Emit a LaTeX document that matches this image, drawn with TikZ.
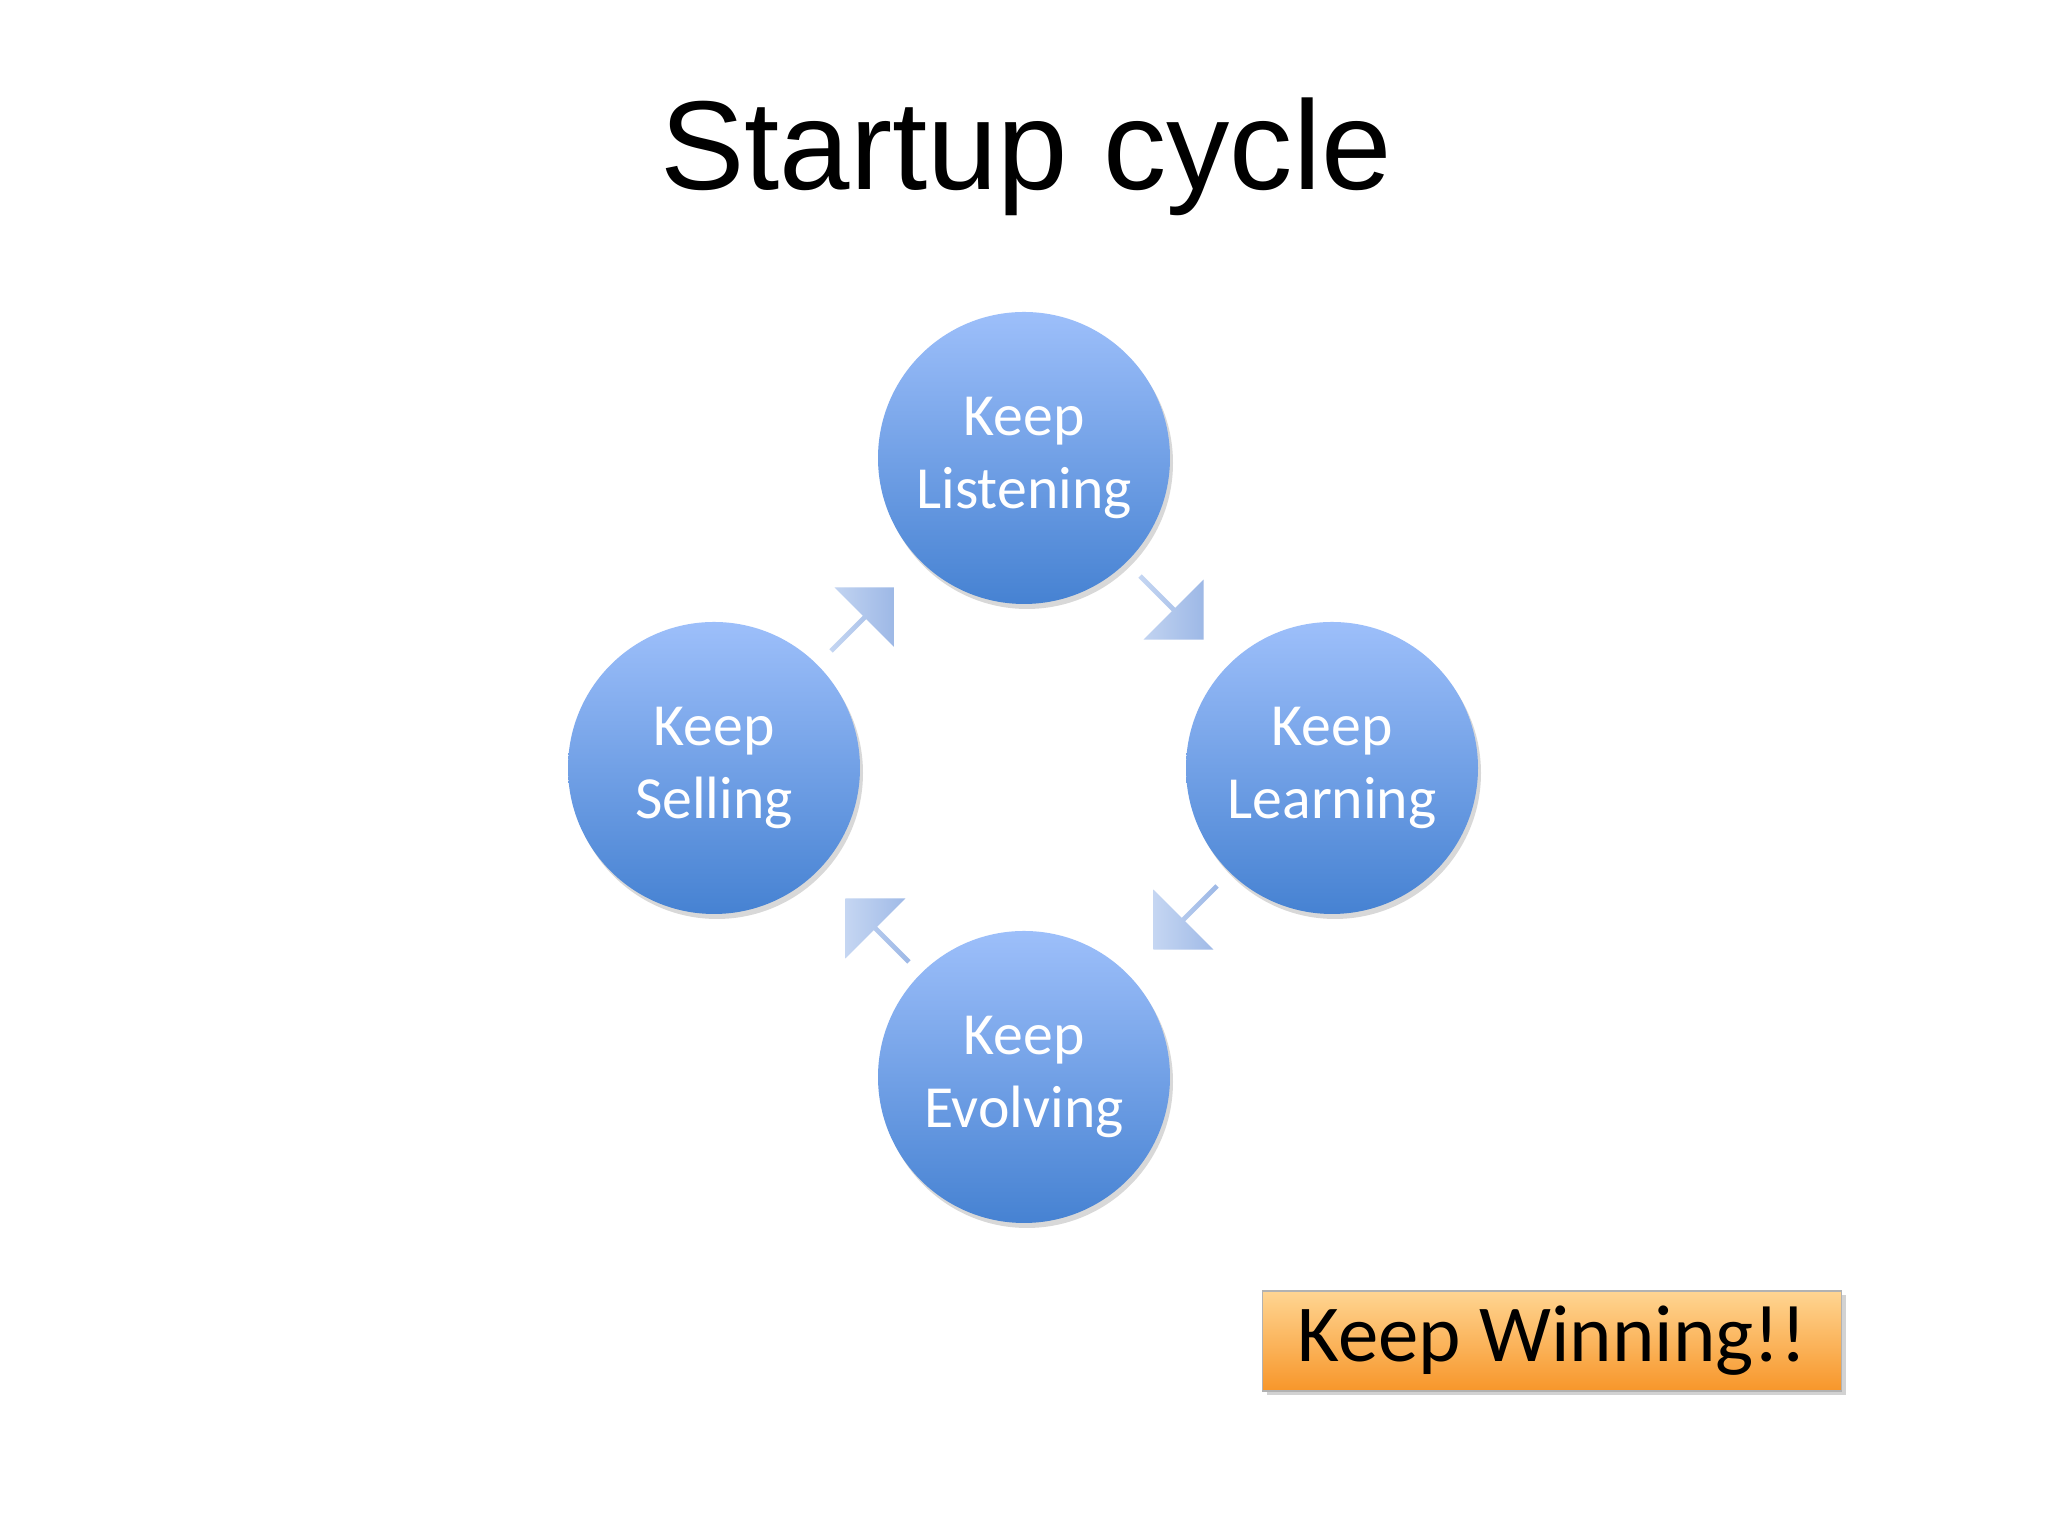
\documentclass[tikz,border=0pt]{standalone}
\usepackage{fontspec}
\setmainfont{Carlito}
\newfontfamily\arialf{Liberation Sans}
\usetikzlibrary{shapes.arrows,shadows}
\definecolor{ctop}{HTML}{9DBFFA}
\definecolor{cbot}{HTML}{4682D2}
\definecolor{atop}{HTML}{C5D6F2}
\definecolor{abot}{HTML}{9DB8E6}
\definecolor{otop}{HTML}{FFD592}
\definecolor{obot}{HTML}{F7962A}
\tikzset{
 stage/.style={circle,minimum size=2.92cm,inner sep=0pt,top color=ctop,bottom color=cbot,
   draw=none,text=white,align=center,font=\fontsize{17}{21}\selectfont,
   drop shadow={shadow xshift=0.03cm,shadow yshift=-0.05cm,opacity=0.3}},
 arr/.style={single arrow,minimum height=0.9cm,minimum width=0.85cm,single arrow head extend=0.12cm,
   inner sep=0pt,left color=atop,right color=abot,draw=none},
}
\begin{document}
\begin{tikzpicture}
\useasboundingbox (0,0) rectangle (20.48,15.36);
\fill[white] (0,0) rectangle (20.48,15.36);
\node (title) at (10.26,13.79) {\arialf\fontsize{36}{40}\selectfont Startup cycle};
\node[stage] (listen) at (10.24,10.78) {Keep\\Listening};
\node[stage] (learn) at (13.32,7.68) {Keep\\Learning};
\node[stage] (evolve) at (10.24,4.59) {Keep\\Evolving};
\node[stage] (sell) at (7.14,7.68) {Keep\\Selling};
\node[arr,rotate=-45] (a1) at (11.71,9.29) {};
\node[arr,rotate=-135] (a2) at (11.86,6.19) {};
\node[arr,rotate=135] (a3) at (8.78,6.05) {};
\node[arr,rotate=45] (a4) at (8.62,9.16) {};
\node[minimum width=5.79cm,minimum height=1.0cm,top color=otop,bottom color=obot,draw=gray!60,
  drop shadow={shadow xshift=0.04cm,shadow yshift=-0.04cm,opacity=0.35},
  font=\fontsize{23}{27}\selectfont] (win) at (15.52,1.95) {Keep Winning!!};
\end{tikzpicture}
\end{document}
